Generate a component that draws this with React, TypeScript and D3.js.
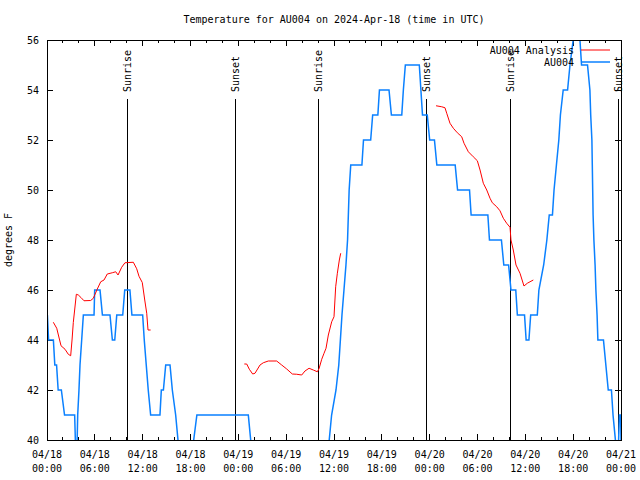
import React from "react";
import * as d3 from "d3";

// ---- data (hours since 2024-04-18 00:00 UTC, degrees F) ----
const TITLE = "Temperature for AU004 on 2024-Apr-18 (time in UTC)";
const Y_LABEL = "degrees F";
const SERIES_NAMES = ["AU004 Analysis", "AU004"];
const Y_TICKS = [40, 42, 44, 46, 48, 50, 52, 54, 56];
const X_MAJOR_HOURS = [0, 6, 12, 18, 24, 30, 36, 42, 48, 54, 60, 66, 72];

const sunEvents: [number, string][] = [
  [10.07, "Sunrise"],
  [23.55, "Sunset"],
  [34.03, "Sunrise"],
  [47.6, "Sunset"],
  [58.12, "Sunrise"],
  [71.67, "Sunset"],
];

const analysisSeg1: [number, number][] = [
  [0.79, 44.71], [1.22, 44.47], [1.76, 43.77], [2.26, 43.63], [2.67, 43.43], [2.97, 43.37],
  [3.14, 44.0], [3.3, 44.7], [3.68, 45.83], [3.93, 45.8], [4.26, 45.7], [4.64, 45.57],
  [5.48, 45.58], [5.81, 45.67], [6.31, 46.04], [6.74, 46.33], [7.15, 46.4], [7.56, 46.64],
  [8.19, 46.69], [8.62, 46.73], [8.91, 46.6], [9.37, 46.91], [9.78, 47.09], [10.83, 47.11],
  [11.25, 46.85], [11.54, 46.55], [11.95, 46.3], [12.26, 45.6], [12.51, 45.07], [12.67, 44.4],
  [13.0, 44.4],
];
const analysisSeg2: [number, number][] = [
  [24.75, 43.04], [25.05, 43.04], [25.38, 42.83], [25.8, 42.64], [26.09, 42.67], [26.72, 43.0],
  [27.13, 43.09], [27.76, 43.16], [28.81, 43.16], [29.44, 43.0], [30.07, 42.84], [30.77, 42.64],
  [31.32, 42.63], [31.95, 42.6], [32.36, 42.76], [32.87, 42.87], [33.4, 42.8], [33.91, 42.73],
  [34.12, 42.85], [34.46, 43.23], [34.75, 43.47], [35.0, 43.67], [35.29, 44.2], [35.71, 44.73],
  [36.0, 44.93], [36.21, 46.13], [36.42, 46.67], [36.67, 47.2], [36.84, 47.47],
];
const analysisSeg3: [number, number][] = [
  [48.8, 53.37], [49.51, 53.33], [49.92, 53.29], [50.14, 53.07], [50.55, 52.67], [50.97, 52.47],
  [51.47, 52.29], [52.02, 52.13], [52.31, 51.87], [52.85, 51.53], [53.47, 51.33], [53.98, 51.17],
  [54.32, 50.8], [54.73, 50.27], [55.16, 50.0], [55.57, 49.67], [55.86, 49.49], [56.41, 49.33],
  [56.82, 49.17], [57.24, 48.87], [57.66, 48.67], [58.08, 48.51], [58.2, 48.0], [58.49, 47.6],
  [58.83, 47.0], [59.33, 46.67], [59.83, 46.16], [60.25, 46.27], [60.59, 46.33], [61.0, 46.4],
];

const observed: [number, number][] = [
  [0.05, 45], [0.2, 44], [0.8, 44], [0.98, 43], [1.2, 43], [1.4, 42], [1.8, 42], [2.2, 41],
  [3.47, 41], [3.6, 39.5], [3.75, 39.5], [3.85, 41], [4.01, 42], [4.14, 43], [4.35, 44], [4.56, 45],
  [5.9, 45], [5.98, 46], [6.65, 46], [6.95, 45], [7.9, 45], [8.2, 44], [8.5, 44], [8.75, 45],
  [9.5, 45], [9.75, 46], [10.4, 46], [10.65, 45], [12.0, 45], [12.2, 44], [12.45, 43], [12.7, 42],
  [13.0, 41], [14.17, 41], [14.34, 42], [14.6, 42], [14.89, 43], [15.43, 43], [15.72, 42],
  [16.14, 41], [16.43, 40], [16.6, 39.5], [18.2, 39.5], [18.4, 40], [18.8, 41], [25.25, 41],
  [25.55, 40], [25.7, 39.5], [35.2, 39.5], [35.4, 40], [35.7, 41], [36.25, 42], [36.6, 43],
  [36.8, 44], [37.0, 45], [37.25, 46], [37.5, 47], [37.7, 48], [37.8, 49], [37.9, 50], [38.1, 51],
  [39.5, 51], [39.7, 52], [40.6, 52], [40.85, 53], [41.5, 53], [41.7, 54], [42.9, 54], [43.2, 53],
  [44.5, 53], [44.7, 54], [44.95, 55], [46.7, 55], [46.9, 54], [47.1, 53], [47.7, 53], [48.0, 52],
  [48.6, 52], [48.9, 51], [51.2, 51], [51.5, 50], [53.0, 50], [53.2, 49], [55.3, 49], [55.5, 48],
  [57.0, 48], [57.3, 47], [57.9, 47], [58.2, 46], [58.8, 46], [59.0, 45], [59.9, 45], [60.1, 44],
  [60.45, 44], [60.67, 45], [61.5, 45], [61.7, 46], [62.3, 47], [62.7, 48], [63.0, 49], [63.4, 49],
  [63.6, 50], [63.9, 51], [64.2, 52], [64.4, 53], [64.75, 54], [65.3, 54], [65.6, 55], [66.4, 57],
  [66.55, 57], [66.85, 56], [67.05, 55], [67.8, 55], [68.1, 54], [68.2, 53], [68.35, 52],
  [68.4, 51], [68.45, 50], [68.5, 49], [68.6, 48], [68.75, 47], [68.85, 46], [69.0, 45], [69.1, 44],
  [69.8, 44], [70.1, 43], [70.4, 42], [70.8, 42], [71.0, 41], [71.3, 40], [71.45, 39.5],
  [71.6, 39.5], [71.7, 40], [71.8, 41], [71.95, 41], [72.0, 40],
];

// ---- layout ----
const W = 640;
const H = 480;
const L = 47;
const R = 621;
const T = 40;
const B = 440;
const FONT = "'DejaVu Sans Mono', 'Liberation Mono', monospace";
const RED = "#ff0000";
const BLUE = "#0a80ff";

const BASE = Date.UTC(2024, 3, 18);
const toDate = (h: number) => new Date(BASE + h * 3600 * 1000);

export default function App() {
  const x = d3.scaleUtc().domain([toDate(0), toDate(72)]).range([L, R]);
  const y = d3.scaleLinear().domain([40, 56]).range([B, T]);
  const line = d3
    .line<[number, number]>()
    .x((d) => x(toDate(d[0])))
    .y((d) => y(d[1]));

  const minorHours = d3.range(0, 73, 2).filter((h) => h % 6 !== 0);
  const fmtDate = d3.utcFormat("%m/%d");
  const fmtTime = d3.utcFormat("%H:%M");
  const yMinor: number[] = [];

  return (
    <svg
      width={W}
      height={H}
      style={{ position: "absolute", left: 0, top: 0, background: "#fff" }}
      fontFamily={FONT}
      fontSize={10}
    >
      <defs>
        <clipPath id="plotclip">
          <rect x={L} y={T} width={R - L} height={B - T} />
        </clipPath>
      </defs>
      <rect x={0} y={0} width={W} height={H} fill="#fff" />

      {/* title */}
      <text x={(L + R) / 2} y={23} textAnchor="middle" fill="#000">
        {TITLE}
      </text>
      {/* y label */}
      <text
        transform={`translate(12,${(T + B) / 2}) rotate(-90)`}
        textAnchor="middle"
        fill="#000"
      >
        {Y_LABEL}
      </text>

      {/* ticks */}
      <g stroke="#000" strokeWidth={1} shapeRendering="crispEdges">
        {Y_TICKS.map((v) => (
          <g key={"yt" + v}>
            <line x1={L} x2={L + 6} y1={y(v)} y2={y(v)} />
            <line x1={R} x2={R - 6} y1={y(v)} y2={y(v)} />
          </g>
        ))}
        {X_MAJOR_HOURS.map((h) => (
          <g key={"xt" + h}>
            <line x1={x(toDate(h))} x2={x(toDate(h))} y1={B} y2={B - 6} />
            <line x1={x(toDate(h))} x2={x(toDate(h))} y1={T} y2={T + 6} />
          </g>
        ))}
        {minorHours.map((h) => (
          <g key={"xm" + h}>
            <line x1={x(toDate(h))} x2={x(toDate(h))} y1={B} y2={B - 3} />
            <line x1={x(toDate(h))} x2={x(toDate(h))} y1={T} y2={T + 3} />
          </g>
        ))}
        {yMinor.map((v) => (
          <line key={"ym" + v} x1={L} x2={L + 3} y1={y(v)} y2={y(v)} />
        ))}
      </g>

      {/* tick labels */}
      <g fill="#000">
        {Y_TICKS.map((v) => (
          <text key={"yl" + v} x={L - 8} y={y(v)} dy="0.35em" textAnchor="end">
            {v}
          </text>
        ))}
        {X_MAJOR_HOURS.map((h) => (
          <g key={"xl" + h}>
            <text x={x(toDate(h))} y={458} textAnchor="middle">
              {fmtDate(toDate(h))}
            </text>
            <text x={x(toDate(h))} y={472} textAnchor="middle">
              {fmtTime(toDate(h))}
            </text>
          </g>
        ))}
      </g>

      {/* sunrise / sunset */}
      {sunEvents.map(([h, label], i) => {
        const sx = Math.round(x(toDate(h))) + 0.5;
        return (
          <g key={"sun" + i}>
            <line x1={sx} x2={sx} y1={99} y2={B} stroke="#000" strokeWidth={1} />
            <text
              transform={`translate(${sx},92) rotate(-90)`}
              dy="0.35em"
              textAnchor="start"
              fill="#000"
            >
              {label}
            </text>
          </g>
        );
      })}

      {/* data */}
      <g clipPath="url(#plotclip)" fill="none">
        <path d={line(observed) || ""} stroke={BLUE} strokeWidth={1.5} />
        {[analysisSeg1, analysisSeg2, analysisSeg3].map((seg, i) => (
          <path key={"an" + i} d={line(seg) || ""} stroke={RED} strokeWidth={1} />
        ))}
      </g>

      {/* legend */}
      <g>
        <text x={574} y={50} dy="0.35em" textAnchor="end" fill="#000">
          {SERIES_NAMES[0]}
        </text>
        <line x1={581} x2={610} y1={50} y2={50} stroke={RED} strokeWidth={1} />
        <text x={574} y={62} dy="0.35em" textAnchor="end" fill="#000">
          {SERIES_NAMES[1]}
        </text>
        <line x1={581} x2={610} y1={62} y2={62} stroke={BLUE} strokeWidth={1.5} />
      </g>

      {/* border */}
      <rect
        x={L}
        y={T}
        width={R - L}
        height={B - T}
        fill="none"
        stroke="#000"
        strokeWidth={1}
        shapeRendering="crispEdges"
      />
    </svg>
  );
}
